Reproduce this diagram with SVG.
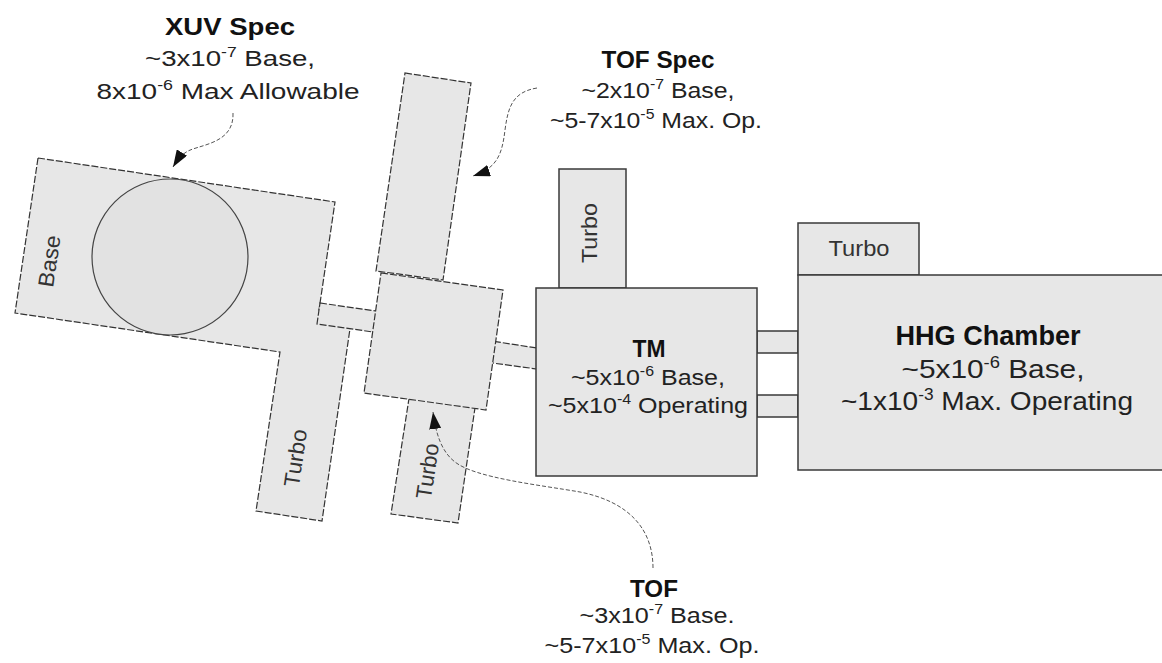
<svg xmlns="http://www.w3.org/2000/svg" width="1162" height="663" viewBox="0 0 1162 663">
<style>
.bx{fill:#e7e7e7;stroke:#333;stroke-width:1.2;stroke-dasharray:7 2}
.sb{fill:#e7e7e7;stroke:#3a3a3a;stroke-width:1.5}
.t{font-family:"Liberation Sans",Arial,sans-serif;font-size:22px;fill:#222;text-anchor:middle}
.b{font-weight:bold;font-size:23px;fill:#111}
.lt{font-family:"Liberation Sans",Arial,sans-serif;font-size:22px;fill:#333;text-anchor:middle}
.cv{fill:none;stroke:#555;stroke-width:1;stroke-dasharray:4 2}
</style>
<defs>
<marker id="ah" viewBox="0 0 17 12" refX="17" refY="6" markerWidth="17" markerHeight="12" markerUnits="userSpaceOnUse" orient="auto"><path d="M0,0 L17,6 L0,12 z" fill="#111"/></marker>
</defs>
<rect width="1162" height="663" fill="#fff"/>

<g id="xuv-spec">
<polygon class="bx" points="38,158 335,202 319,310 352,315 322,521 256,511 280,352 15,313"/>
<circle cx="170" cy="257" r="78" fill="#e2e2e2" stroke="#444" stroke-width="1.2"/>
<text class="lt" transform="translate(49,261) rotate(-81.6)" x="0" y="8" textLength="52" lengthAdjust="spacingAndGlyphs">Base</text>
<text class="lt" transform="translate(295,458) rotate(-81.6)" x="0" y="8" textLength="58" lengthAdjust="spacingAndGlyphs">Turbo</text>
</g>

<g id="tubes">
<polygon class="bx" points="320,303 390,313 387,334 317,324"/>
<polygon class="bx" points="485,340 537,348 537,369 485,362"/>
<rect class="sb" x="757" y="331" width="41" height="22"/>
<rect class="sb" x="757" y="395" width="41" height="22"/>
</g>

<g id="tof-spec">
<polygon class="bx" points="405,73 471,83 443,280 376,271"/>
</g>

<g id="tof-turbo">
<polygon class="bx" points="410,392 476,401 458,523 391,514"/>
<text class="lt" transform="translate(427,471) rotate(-81.6)" x="0" y="8" textLength="56" lengthAdjust="spacingAndGlyphs">Turbo</text>
</g>

<g id="tof">
<polygon class="bx" points="381,273 503,290 486,410 364,393"/>
</g>

<g id="tm-turbo">
<rect class="sb" x="559" y="169" width="67" height="119"/>
<text class="lt" transform="translate(589,233) rotate(-90)" x="0" y="8" textLength="60" lengthAdjust="spacingAndGlyphs">Turbo</text>
</g>

<g id="tm">
<rect class="sb" x="536" y="288" width="221" height="188"/>
<text class="t b" x="649" y="357" textLength="33" lengthAdjust="spacingAndGlyphs">TM</text>
<text class="t" x="648" y="385" textLength="154" lengthAdjust="spacingAndGlyphs">~5x10<tspan dy="-9" font-size="14">-6</tspan><tspan dy="9"> Base,</tspan></text>
<text class="t" x="648" y="413" textLength="200" lengthAdjust="spacingAndGlyphs">~5x10<tspan dy="-9" font-size="14">-4</tspan><tspan dy="9"> Operating</tspan></text>
</g>

<g id="hhg-turbo">
<rect class="sb" x="798" y="223" width="121" height="52"/>
<text class="lt" x="859" y="256" textLength="61" lengthAdjust="spacingAndGlyphs">Turbo</text>
</g>

<g id="hhg">
<rect class="sb" x="798" y="275" width="372" height="195"/>
<text class="t b" x="988" y="345" style="font-size:27px" textLength="185" lengthAdjust="spacingAndGlyphs">HHG Chamber</text>
<text class="t" x="993" y="378" style="font-size:26px" textLength="183" lengthAdjust="spacingAndGlyphs">~5x10<tspan dy="-10" font-size="16">-6</tspan><tspan dy="10"> Base,</tspan></text>
<text class="t" x="987" y="410" style="font-size:26px" textLength="292" lengthAdjust="spacingAndGlyphs">~1x10<tspan dy="-10" font-size="16">-3</tspan><tspan dy="10"> Max. Operating</tspan></text>
</g>

<g id="labels">
<text class="t b" x="230" y="35" textLength="130" lengthAdjust="spacingAndGlyphs">XUV Spec</text>
<text class="t" x="230" y="66" textLength="170" lengthAdjust="spacingAndGlyphs">~3x10<tspan dy="-9" font-size="14">-7</tspan><tspan dy="9"> Base,</tspan></text>
<text class="t" x="228" y="99" textLength="263" lengthAdjust="spacingAndGlyphs">8x10<tspan dy="-9" font-size="14">-6</tspan><tspan dy="9"> Max Allowable</tspan></text>

<text class="t b" x="658" y="68" textLength="113" lengthAdjust="spacingAndGlyphs">TOF Spec</text>
<text class="t" x="658" y="98" textLength="153" lengthAdjust="spacingAndGlyphs">~2x10<tspan dy="-9" font-size="14">-7</tspan><tspan dy="9"> Base,</tspan></text>
<text class="t" x="656" y="128" textLength="212" lengthAdjust="spacingAndGlyphs">~5-7x10<tspan dy="-9" font-size="14">-5</tspan><tspan dy="9"> Max. Op.</tspan></text>

<text class="t b" x="654" y="597" textLength="48" lengthAdjust="spacingAndGlyphs">TOF</text>
<text class="t" x="657" y="623" textLength="155" lengthAdjust="spacingAndGlyphs">~3x10<tspan dy="-9" font-size="14">-7</tspan><tspan dy="9"> Base.</tspan></text>
<text class="t" x="652" y="653" textLength="215" lengthAdjust="spacingAndGlyphs">~5-7x10<tspan dy="-9" font-size="14">-5</tspan><tspan dy="9"> Max. Op.</tspan></text>
</g>

<g id="connectors">
<path class="cv" d="M233,113 C234,138 212,143 196,148 C186,151 181,154 173,167" marker-end="url(#ah)"/>
<path class="cv" d="M537,88 C512,92 508,108 505,130 C502,155 497,168 473,176" marker-end="url(#ah)"/>
<path class="cv" d="M653,568 C653,530 630,502 580,492 C540,485 475,478 455,462 C442,452 436,435 433,412" marker-end="url(#ah)"/>
</g>
</svg>
